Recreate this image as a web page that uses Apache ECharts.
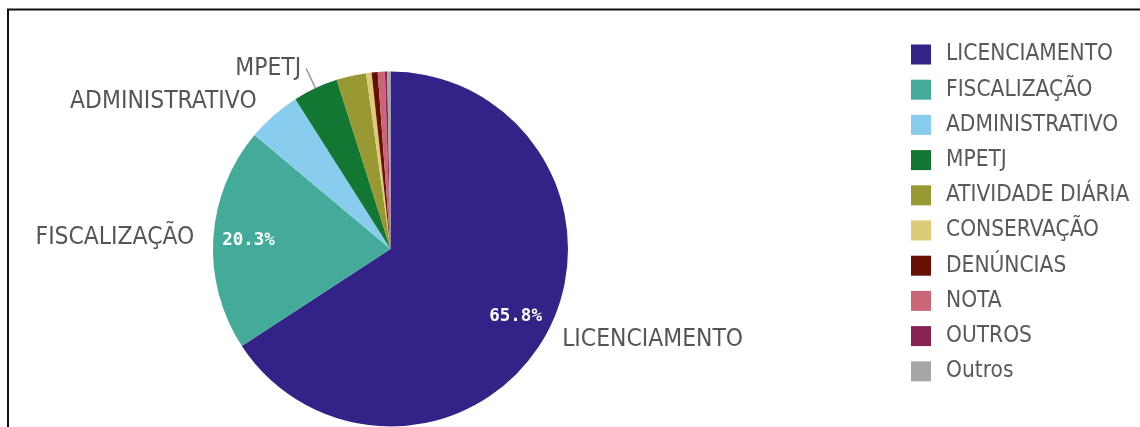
<!DOCTYPE html>
<html>
<head>
<meta charset="utf-8">
<script src="https://cdn.jsdelivr.net/npm/echarts@6/dist/echarts.min.js"></script>
<style>
  html, body { margin: 0; padding: 0; background: #fff; }
  #chart { width: 1140px; height: 427px; }
</style>
</head>
<body>
<div id="chart"></div>
<script>
const categories = ['LICENCIAMENTO', 'FISCALIZAÇÃO', 'ADMINISTRATIVO', 'MPETJ', 'ATIVIDADE DIÁRIA', 'CONSERVAÇÃO', 'DENÚNCIAS', 'NOTA', 'OUTROS', 'Outros'];
const values = [65.8, 20.3, 4.9, 4.1, 2.7, 0.5, 0.55, 0.65, 0.2, 0.3];
const colors = ['#332288', '#44aa99', '#88ccee', '#117733', '#999933', '#ddcc77', '#661100', '#cc6677', '#882255', '#a6a6a6'];
const outsideLabelled = ['LICENCIAMENTO', 'FISCALIZAÇÃO', 'ADMINISTRATIVO', 'MPETJ'];
const lineLengths = { 'LICENCIAMENTO': 12, 'FISCALIZAÇÃO': 14, 'ADMINISTRATIVO': 18, 'MPETJ': 22 };

const labelFont = '"DejaVu Sans Condensed", "Liberation Sans Narrow", "Liberation Sans", sans-serif';

const mainData = categories.map((name, i) => {
  const show = outsideLabelled.includes(name);
  return {
    name: name,
    value: values[i],
    itemStyle: { color: colors[i] },
    label: { show: show },
    labelLine: { show: name === 'MPETJ', length: lineLengths[name] || 12, length2: 0 }
  };
});

const pctData = categories.map((name, i) => ({
  name: name,
  value: values[i],
  itemStyle: { color: 'rgba(0,0,0,0)' }
}));

const chart = echarts.init(document.getElementById('chart'), null, { renderer: 'canvas' });
chart.setOption({
  animation: false,
  backgroundColor: '#ffffff',
  graphic: [{
    type: 'polyline',
    shape: { points: [[8, 430], [8, 9.5], [1142, 9.5]] },
    style: { stroke: '#111', lineWidth: 2, fill: null },
    silent: true
  }],
  legend: {
    orient: 'vertical',
    left: 906,
    top: 38,
    icon: 'rect',
    itemWidth: 20,
    itemHeight: 20,
    itemGap: 12.2,
    data: categories,
    textStyle: {
      fontFamily: labelFont,
      fontSize: 22.5,
      color: '#595959',
      padding: [0, 0, 0, 10]
    }
  },
  series: [
    {
      type: 'pie',
      center: [390.5, 249],
      radius: [0, 177.5],
      startAngle: 90,
      clockwise: true,
      avoidLabelOverlap: false,
      emphasis: { disabled: true },
      label: {
        position: 'outside',
        formatter: '{b}',
        fontFamily: labelFont,
        fontSize: 24.4,
        color: '#555555',
        distanceToLabelLine: 5
      },
      labelLine: {
        length: 12,
        length2: 0,
        lineStyle: { color: '#999999', width: 1.5 }
      },
      data: mainData
    },
    {
      type: 'pie',
      center: [390.5, 249],
      radius: [101, 177.5],
      startAngle: 90,
      clockwise: true,
      silent: true,
      emphasis: { disabled: true },
      z: 3,
      label: {
        show: true,
        position: 'inside',
        fontFamily: '"DejaVu Sans Mono", monospace',
        fontWeight: 'bold',
        fontSize: 17.5,
        color: '#ffffff',
        formatter: p => (p.percent > 10 ? p.percent.toFixed(1) + '%' : '')
      },
      labelLine: { show: false },
      data: pctData
    }
  ]
});
</script>
</body>
</html>
